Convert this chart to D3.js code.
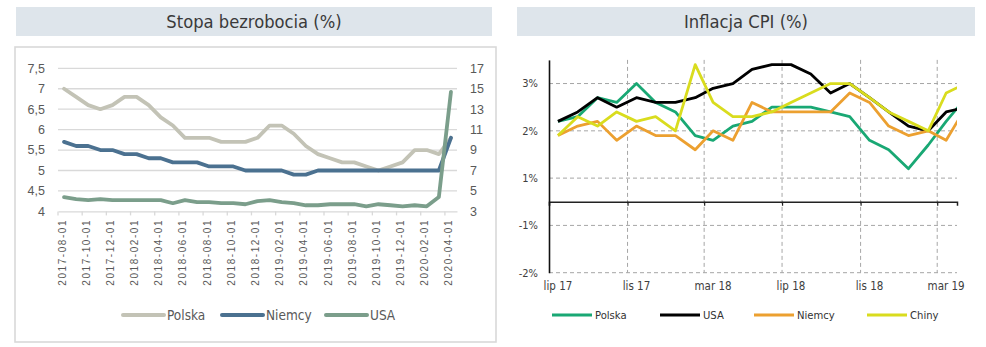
<!DOCTYPE html>
<html>
<head>
<meta charset="utf-8">
<script src="https://cdn.jsdelivr.net/npm/d3@7"></script>
<style>
  body { margin: 0; background: #fff; }
  svg { display: block; }
  .narrow { font-family: "DejaVu Sans Condensed", "Liberation Sans Narrow", "Liberation Sans", sans-serif; }
  .reg { font-family: "Liberation Sans", "DejaVu Sans", sans-serif; }
</style>
</head>
<body>
<svg id="chart" width="986" height="347"></svg>
<script>
// ---------- Left chart: Stopa bezrobocia (%) ----------
const leftTitle = "Stopa bezrobocia (%)";
const unempMonths = [
  "2017-08-01","2017-09-01","2017-10-01","2017-11-01","2017-12-01",
  "2018-01-01","2018-02-01","2018-03-01","2018-04-01","2018-05-01","2018-06-01",
  "2018-07-01","2018-08-01","2018-09-01","2018-10-01","2018-11-01","2018-12-01",
  "2019-01-01","2019-02-01","2019-03-01","2019-04-01","2019-05-01","2019-06-01",
  "2019-07-01","2019-08-01","2019-09-01","2019-10-01","2019-11-01","2019-12-01",
  "2020-01-01","2020-02-01","2020-03-01","2020-04-01"
];
const unempPolska = [7.0,6.8,6.6,6.5,6.6,6.8,6.8,6.6,6.3,6.1,5.8,5.8,5.8,5.7,5.7,5.7,5.8,
  6.1,6.1,5.9,5.6,5.4,5.3,5.2,5.2,5.1,5.0,5.1,5.2,5.5,5.5,5.4,5.8];
const unempNiemcy = [5.7,5.6,5.6,5.5,5.5,5.4,5.4,5.3,5.3,5.2,5.2,5.2,5.1,5.1,5.1,5.0,5.0,
  5.0,5.0,4.9,4.9,5.0,5.0,5.0,5.0,5.0,5.0,5.0,5.0,5.0,5.0,5.0,5.8];
const unempUSA = [4.4,4.2,4.1,4.2,4.1,4.1,4.1,4.1,4.1,3.8,4.1,3.9,3.9,3.8,3.8,3.7,4.0,
  4.1,3.9,3.8,3.6,3.6,3.7,3.7,3.7,3.5,3.7,3.6,3.5,3.6,3.5,4.4,14.7];
const leftAxisTicks = [4,4.5,5,5.5,6,6.5,7,7.5];
const rightAxisTicks = [3,5,7,9,11,13,15,17];
const unempSeries = ["Polska","Niemcy","USA"];

// ---------- Right chart: Inflacja CPI (%) ----------
const rightTitle = "Inflacja CPI (%)";
const cpiDates = [
  "2017-07-15","2017-08-15","2017-09-15","2017-10-15","2017-11-15","2017-12-15",
  "2018-01-15","2018-02-15","2018-03-15","2018-04-15","2018-05-15","2018-06-15",
  "2018-07-15","2018-08-15","2018-09-15","2018-10-15","2018-11-15","2018-12-15",
  "2019-01-15","2019-02-15","2019-03-15","2019-04-15"
];
const cpiPolska = [1.7,1.8,2.2,2.1,2.5,2.1,1.9,1.4,1.3,1.6,1.7,2.0,2.0,2.0,1.9,1.8,1.3,1.1,0.7,1.2,1.7,2.2];
const cpiUSA    = [1.7,1.9,2.2,2.0,2.2,2.1,2.1,2.2,2.4,2.5,2.8,2.9,2.9,2.7,2.3,2.5,2.2,1.9,1.6,1.5,1.9,2.0];
const cpiNiemcy = [1.4,1.6,1.7,1.3,1.6,1.4,1.4,1.1,1.5,1.3,2.1,1.9,1.9,1.9,1.9,2.3,2.1,1.6,1.4,1.5,1.3,2.0];
const cpiChiny  = [1.4,1.8,1.6,1.9,1.7,1.8,1.5,2.9,2.1,1.8,1.8,1.9,2.1,2.3,2.5,2.5,2.2,1.9,1.7,1.5,2.3,2.5];
const cpiSeries = ["Polska","USA","Niemcy","Chiny"];
const cpiTickDates = ["2017-07-01","2017-11-01","2018-03-01","2018-07-01","2018-11-01","2019-03-01"];
const cpiTickLabels = ["lip 17","lis 17","mar 18","lip 18","lis 18","mar 19"];
const cpiYTicks = [-1.5,-0.5,0.5,1.5,2.5];
const cpiYLabels = ["-2%","-1%","1%","2%","3%"];

// ---------- drawing ----------
const svg = d3.select("#chart");
const parse = d3.timeParse("%Y-%m-%d");

// ===== LEFT =====
const L = svg.append("g");
L.append("rect").attr("x",16).attr("y",7).attr("width",476).attr("height",29).attr("fill","#dee5eb");
L.append("text").attr("class","narrow").attr("x",254).attr("y",28).attr("text-anchor","middle")
  .attr("font-size",18.2).attr("fill","#3a3a3a").text(leftTitle);
L.append("rect").attr("x",15).attr("y",47).attr("width",481).attr("height",295)
  .attr("fill","none").attr("stroke","#d9d9d9").attr("stroke-width",1.6);

const xL = d3.scaleBand().domain(unempMonths).range([58,457]);
const yL = d3.scaleLinear().domain([4,7.5]).range([211.4,68.3]);
const yR = d3.scaleLinear().domain([3,17]).range([211.4,68.3]);

L.append("g").selectAll("line").data(leftAxisTicks.slice(1)).join("line")
  .attr("x1",58).attr("x2",457).attr("y1",d=>yL(d)).attr("y2",d=>yL(d))
  .attr("stroke","#d9d9d9").attr("stroke-width",1.3);

// bottom axis
const axB = L.append("g").attr("transform",`translate(0,${yL(4)})`)
  .call(d3.axisBottom(xL).tickSize(0).tickFormat(""));
axB.select(".domain").attr("stroke","#d9d9d9").attr("stroke-width",1.3);
L.append("g").selectAll("line").data(unempMonths.filter((d,i)=>i%2===0)).join("line")
  .attr("x1",d=>xL(d)).attr("x2",d=>xL(d)).attr("y1",yL(4)).attr("y2",yL(4)+4)
  .attr("stroke","#d9d9d9").attr("stroke-width",1.3);
L.append("g").selectAll("text").data(unempMonths.filter((d,i)=>i%2===0)).join("text")
  .attr("class","reg")
  .attr("transform",d=>`translate(${xL(d)+xL.bandwidth()/2-2},219) rotate(-90)`)
  .attr("text-anchor","end").attr("dy","0.35em")
  .attr("font-size",10).attr("letter-spacing",1.55).attr("fill","#595959").text(d=>d);

// y labels
const commaFmt = d => String(d).replace(".",",");
L.append("g").selectAll("text").data(leftAxisTicks).join("text")
  .attr("class","reg").attr("x",45).attr("y",d=>yL(d)).attr("dy","0.35em")
  .attr("text-anchor","end").attr("font-size",12.5).attr("fill","#595959").text(commaFmt);
L.append("g").selectAll("text").data(rightAxisTicks).join("text")
  .attr("class","reg").attr("x",470).attr("y",d=>yR(d)).attr("dy","0.35em")
  .attr("text-anchor","start").attr("font-size",12.5).attr("fill","#595959").text(d=>d);

const leftColors = {Polska:"#c3c3b6", Niemcy:"#4b7190", USA:"#7b9e8b"};
const leftData = {Polska:unempPolska, Niemcy:unempNiemcy, USA:unempUSA};
unempSeries.forEach(s => {
  const yS = s==="USA" ? yR : yL;
  const line = d3.line().x((d,i)=>xL(unempMonths[i])+xL.bandwidth()/2).y(d=>yS(d));
  L.append("path").datum(leftData[s]).attr("d",line).attr("fill","none")
    .attr("stroke",leftColors[s]).attr("stroke-width",3.8)
    .attr("stroke-linejoin","round").attr("stroke-linecap","round");
});
// legend
const legL = [{s:"Polska",x:123},{s:"Niemcy",x:222},{s:"USA",x:326}];
legL.forEach(o=>{
  L.append("line").attr("x1",o.x).attr("x2",o.x+41).attr("y1",315).attr("y2",315)
    .attr("stroke",leftColors[o.s]).attr("stroke-width",4).attr("stroke-linecap","round");
  L.append("text").attr("class","narrow").attr("x",o.x+44).attr("y",315).attr("dy","0.35em")
    .attr("font-size",13.5).attr("fill","#595959").text(o.s);
});

// ===== RIGHT =====
const R = svg.append("g");
R.append("rect").attr("x",517).attr("y",7).attr("width",458).attr("height",29).attr("fill","#dee5eb");
R.append("text").attr("class","narrow").attr("x",746).attr("y",28).attr("text-anchor","middle")
  .attr("font-size",18.2).attr("fill","#3a3a3a").text(rightTitle);

const xT = d3.scaleTime().domain([parse("2017-07-01"), parse("2019-04-01")]).range([549,957]);
const yC = d3.scaleLinear().domain([-1.5,3]).range([272.7,59.9]);

R.append("defs").append("clipPath").attr("id","cpiClip").append("rect")
  .attr("x",549).attr("y",40).attr("width",957-549).attr("height",250);

// horizontal dashed gridlines
R.append("g").selectAll("line").data(cpiYTicks).join("line")
  .attr("x1",549).attr("x2",957).attr("y1",d=>yC(d)).attr("y2",d=>yC(d))
  .attr("stroke","#a6a6a6").attr("stroke-width",1).attr("stroke-dasharray","4,3");
// vertical dashed gridlines
R.append("g").selectAll("line").data(cpiTickDates.slice(1)).join("line")
  .attr("x1",d=>xT(parse(d))).attr("x2",d=>xT(parse(d))).attr("y1",yC(3)).attr("y2",yC(-1.5))
  .attr("stroke","#a6a6a6").attr("stroke-width",1).attr("stroke-dasharray","4,3");
// zero axis
const axZ = R.append("g").attr("transform",`translate(0,${yC(0)})`)
  .call(d3.axisBottom(xT).tickValues(cpiTickDates.map(parse)).tickSize(4).tickFormat(""));
axZ.select(".domain").attr("stroke","#222").attr("stroke-width",1.5);
axZ.selectAll(".tick line").attr("stroke","#222").attr("stroke-width",1.2);
// y axis
const axY = R.append("g").attr("transform","translate(549,0)")
  .call(d3.axisLeft(yC).tickValues(cpiYTicks).tickSize(0).tickFormat(""));
axY.select(".domain").attr("stroke","#111").attr("stroke-width",1.6);
R.append("g").selectAll("text").data(cpiYTicks).join("text")
  .attr("class","narrow").attr("x",538).attr("y",d=>yC(d)).attr("dy","0.35em")
  .attr("text-anchor","end").attr("font-size",11).attr("fill","#404040")
  .text((d,i)=>cpiYLabels[i]);
// x labels, centred on the month's data point
R.append("g").selectAll("text").data(cpiTickDates).join("text")
  .attr("class","narrow")
  .attr("x",d=>{const t=parse(d); return xT(new Date(t.getFullYear(), t.getMonth(), 15));})
  .attr("y",290).attr("text-anchor","middle").attr("font-size",11.5).attr("fill","#404040")
  .text((d,i)=>cpiTickLabels[i]);

const cpiColors = {Polska:"#19a874", USA:"#000000", Niemcy:"#eca030", Chiny:"#d9dc1e"};
const cpiData = {Polska:cpiPolska, USA:cpiUSA, Niemcy:cpiNiemcy, Chiny:cpiChiny};
const lineG = R.append("g").attr("clip-path","url(#cpiClip)");
cpiSeries.forEach(s=>{
  const line = d3.line().x((d,i)=>xT(parse(cpiDates[i]))).y(d=>yC(d));
  lineG.append("path").datum(cpiData[s]).attr("d",line).attr("fill","none")
    .attr("stroke",cpiColors[s]).attr("stroke-width",2.8).attr("stroke-linejoin","round");
});
const legR = [{s:"Polska",x:552},{s:"USA",x:660},{s:"Niemcy",x:754},{s:"Chiny",x:867}];
legR.forEach(o=>{
  R.append("line").attr("x1",o.x).attr("x2",o.x+40).attr("y1",315).attr("y2",315)
    .attr("stroke",cpiColors[o.s]).attr("stroke-width",3);
  R.append("text").attr("class","narrow").attr("x",o.x+43).attr("y",315).attr("dy","0.35em")
    .attr("font-size",11.2).attr("fill","#333").text(o.s);
});
</script>
</body>
</html>
